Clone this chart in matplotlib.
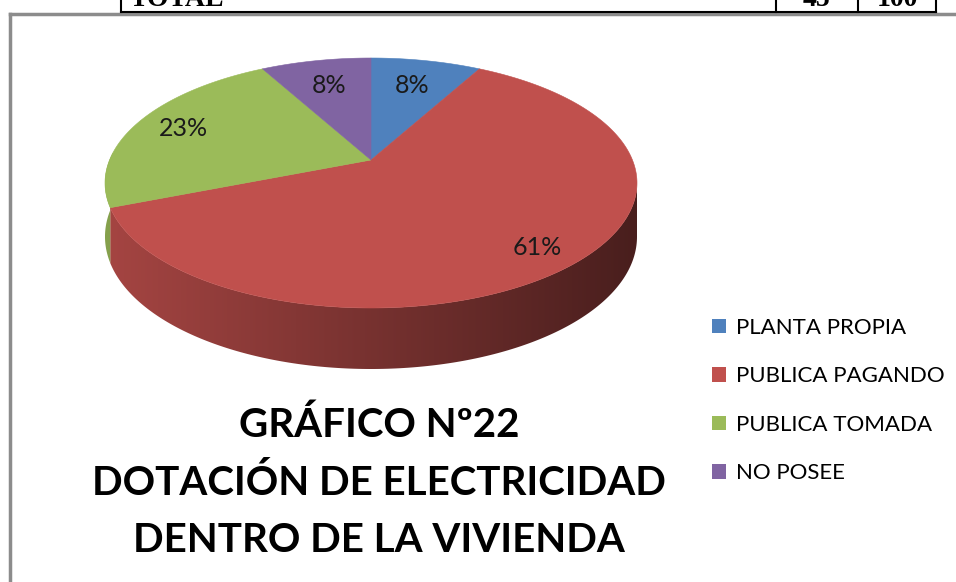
import numpy as np
import matplotlib.pyplot as plt
from matplotlib.patches import Polygon, Patch
from matplotlib.colors import to_rgb

# -------------------------
# datos del grafico (porcentajes mostrados)
# -------------------------
categorias = ['PLANTA PROPIA', 'PUBLICA PAGANDO', 'PUBLICA TOMADA', 'NO POSEE']
porcentajes = [8, 61, 23, 8]
colores = ['#4F81BD', '#C0504D', '#9BBB59', '#8064A2']

titulo = ['GRÁFICO Nº22', 'DOTACIÓN DE ELECTRICIDAD', 'DENTRO DE LA VIVIENDA']
tabla_total = ['TOTAL', '45', '100']

# -------------------------
# figura en pixeles
# -------------------------
W, H = 956, 582
fig = plt.figure(figsize=(W / 100, H / 100), dpi=100)
ax = fig.add_axes([0, 0, 1, 1])
ax.axis('off')

# geometria del pastel 3D (perspectiva simple)
cx, cy = 371, 183
rx, ry = 266, 125
a = 0.184
k = np.sqrt(1 - a ** 2)


def borde(phi, r=1.0):
    s = r * np.sin(phi)
    c = r * np.cos(phi)
    x = cx + rx * c * k / (1 + a * s)
    y = cy - ry * (s + a) / (1 + a * s)
    return x, y


def profundidad(phi):
    return 52 + 9 * np.clip(-np.sin(phi), 0, None)


total = sum(porcentajes)
fracs = [v / total for v in porcentajes]
inicios, finales = [], []
ang = 90.0
for f in fracs:
    inicios.append(ang)
    ang -= 360 * f
    finales.append(ang)

# parte frontal visible (silueta)
lo = -180 - np.degrees(np.arcsin(a))
hi = -np.degrees(np.arcsin(a))
xmin, xmax = cx - rx, cx + rx

# -------------------------
# lado del cilindro con degradado horizontal
# -------------------------
gx = np.linspace(0, 1, 256)
fac = 0.86 - 0.48 * gx
for ini, fin, col in zip(inicios, finales, colores):
    p0, p1 = max(fin, lo), min(ini, hi)
    if p1 <= p0:
        continue
    phis = np.radians(np.linspace(p0, p1, 200))
    xs, ys = borde(phis)
    ds = profundidad(phis)
    pts = list(zip(xs, ys)) + list(zip(xs[::-1], (ys + ds)[::-1]))
    lado = Polygon(pts, closed=True, facecolor='none', edgecolor='none')
    ax.add_patch(lado)
    base = np.array(to_rgb(col))
    grad = (fac[:, None] * base[None, :])[None, :, :]
    im = ax.imshow(grad, extent=(xmin, xmax, cy + ry + 80, cy - 30),
                   aspect='auto', interpolation='bilinear', zorder=2)
    im.set_clip_path(lado)

# -------------------------
# cara superior
# -------------------------
apex = borde(0.0, 0.0)
for ini, fin, col in zip(inicios, finales, colores):
    phis = np.radians(np.linspace(ini, fin, 300))
    xs, ys = borde(phis)
    pts = [apex] + list(zip(xs, ys))
    ax.add_patch(Polygon(pts, closed=True, facecolor=col, edgecolor=col,
                         linewidth=0.4, zorder=3))

# etiquetas de porcentaje
etiquetas_r = [0.72, 0.85, 0.80, 0.72]
for ini, fin, p, r in zip(inicios, finales, porcentajes, etiquetas_r):
    mid = np.radians((ini + fin) / 2)
    lx, ly = borde(mid, r)
    ax.text(lx, ly, f'{p}%', family='Lato', fontsize=18,
            color='#1a1a1a', ha='center', va='center', zorder=5)

# -------------------------
# leyenda
# -------------------------
handles = [Patch(facecolor=c, edgecolor='none', label=l)
           for c, l in zip(colores, categorias)]
fig.legend(handles=handles, loc='upper left',
           bbox_to_anchor=(712 / W, 1 - 318 / H), frameon=False,
           prop={'family': 'Lato', 'size': 16}, borderpad=0, borderaxespad=0,
           handlelength=0.62, handleheight=0.62, handletextpad=0.45,
           labelspacing=1.28)

# titulo
for txt, y in zip(titulo, [425, 483, 541]):
    ax.text(379, y, txt, family='Lato', fontweight='bold', fontsize=29,
            ha='center', va='center', color='black', zorder=5)

# -------------------------
# marco y resto de la tabla arriba
# -------------------------
ax.plot([10.5, 10.5], [H, 13.5], color='#8c8c8c', lw=2.5, zorder=6)
ax.plot([10.5, W], [13.5, 13.5], color='#8c8c8c', lw=2.5, zorder=6)

ax.plot([121, 936], [11.5, 11.5], color='black', lw=1.5, zorder=7)
for x in [121, 776, 858, 936]:
    ax.plot([x, x], [0, 11.5], color='black', lw=1.5, zorder=7)
for txt, x, ha in zip(tabla_total, [130, 817, 897], ['left', 'center', 'center']):
    ax.text(x, 6, txt, family='Liberation Serif', fontweight='bold',
            fontsize=20, ha=ha, va='baseline', color='black', zorder=7)

ax.set_xlim(0, W)
ax.set_ylim(H, 0)

fig.savefig('out.png', dpi=100)
